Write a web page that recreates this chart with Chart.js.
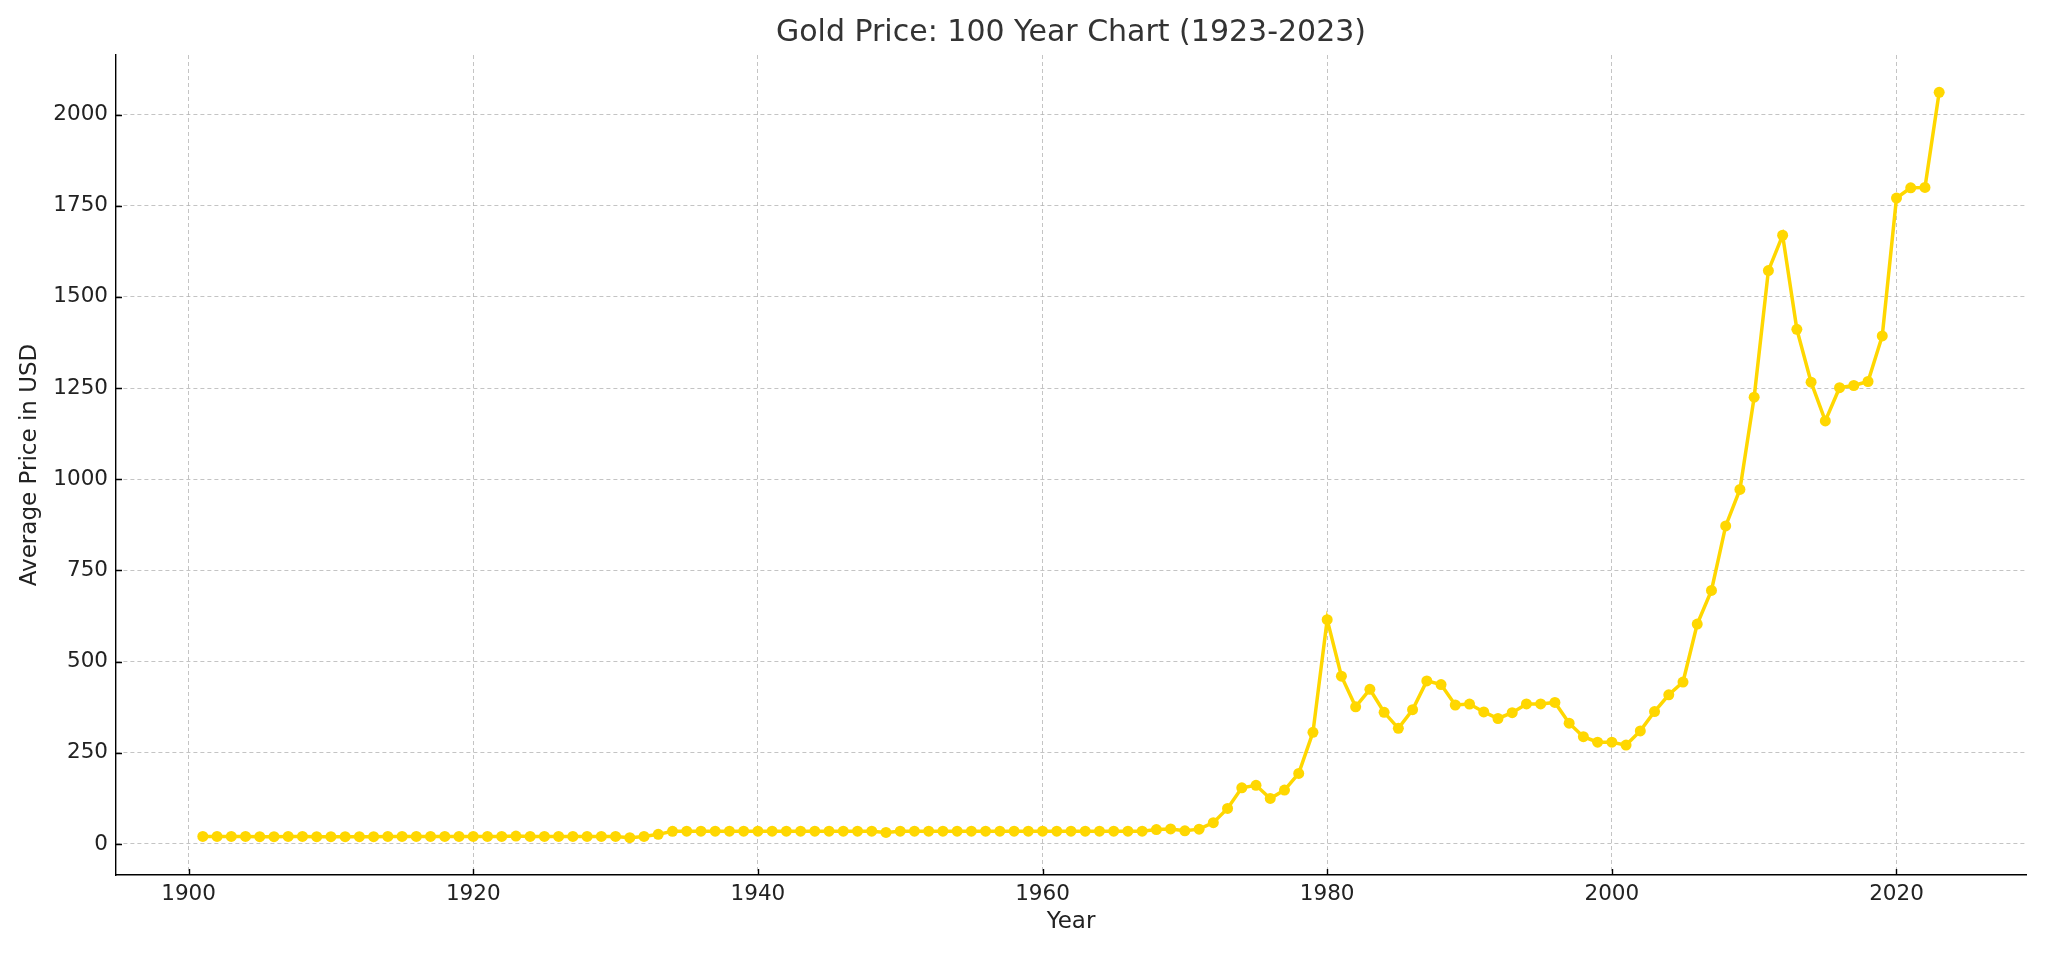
<!DOCTYPE html>
<html>
<head>
<meta charset="utf-8">
<script src="https://cdn.jsdelivr.net/npm/chart.js@4"></script>
<style>
  html, body { margin: 0; padding: 0; background: #ffffff; }
  #wrap { width: 2048px; height: 955px; }
</style>
</head>
<body>
<div id="wrap"><canvas id="c" width="2048" height="955"></canvas></div>
<script>
const years = [
  1901,1902,1903,1904,1905,1906,1907,1908,1909,1910,
  1911,1912,1913,1914,1915,1916,1917,1918,1919,1920,
  1921,1922,1923,1924,1925,1926,1927,1928,1929,1930,
  1931,1932,1933,1934,1935,1936,1937,1938,1939,1940,
  1941,1942,1943,1944,1945,1946,1947,1948,1949,1950,
  1951,1952,1953,1954,1955,1956,1957,1958,1959,1960,
  1961,1962,1963,1964,1965,1966,1967,1968,1969,1970,
  1971,1972,1973,1974,1975,1976,1977,1978,1979,1980,
  1981,1982,1983,1984,1985,1986,1987,1988,1989,1990,
  1991,1992,1993,1994,1995,1996,1997,1998,1999,2000,
  2001,2002,2003,2004,2005,2006,2007,2008,2009,2010,
  2011,2012,2013,2014,2015,2016,2017,2018,2019,2020,
  2021,2022,2023
];
const prices = [
  20.67,20.67,20.67,20.67,19.8,19.8,20.67,20.67,20.0,19.8,
  20.0,19.8,20.0,20.67,20.67,20.67,20.67,20.67,20.67,20.67,
  20.67,20.67,21.5,20.67,20.67,20.67,20.67,20.67,20.67,20.67,
  17.06,20.67,26.33,34.69,35.0,35.0,35.0,35.0,35.0,35.0,
  35.0,35.0,35.0,35.0,35.0,35.0,35.0,35.0,31.69,35.0,
  35.0,35.0,35.0,35.0,35.0,35.0,35.0,35.0,35.0,35.0,
  35.0,35.0,35.0,35.0,35.0,35.0,35.0,39.31,41.28,36.02,
  40.62,58.42,97.39,154.0,160.86,124.74,147.84,193.4,306.0,615.0,
  460.0,376.0,424.0,361.0,317.0,368.0,447.0,437.0,381.0,383.5,
  362.0,344.0,360.0,384.0,384.0,388.0,331.0,294.0,279.0,279.0,
  271.0,310.0,363.0,409.0,444.0,603.0,695.0,872.0,972.0,1225.0,
  1572.0,1669.0,1411.0,1266.0,1160.0,1251.0,1257.0,1268.0,1393.0,1771.0,
  1799.0,1800.0,2061.0
];
const xTickValues = [1900, 1920, 1940, 1960, 1980, 2000, 2020];
const yTickValues = [0, 250, 500, 750, 1000, 1250, 1500, 1750, 2000];

const titleText = 'Gold Price: 100 Year Chart (1923-2023)';
const xTitle = 'Year';
const yTitle = 'Average Price in USD';

// matplotlib-style 5% margins computed from the data
const xSpan = Math.max(...years) - Math.min(...years);
const ySpan = Math.max(...prices) - Math.min(...prices);
const xMin = Math.min(...years) - 0.05 * xSpan;
const xMax = Math.max(...years) + 0.05 * xSpan;
const yMin = Math.min(...prices) - 0.05 * ySpan;
const yMax = Math.max(...prices) + 0.05 * ySpan;

const FONT = "'DejaVu Sans', sans-serif";
const GOLD = '#FFD700';
const GRID = 'rgba(176,176,176,0.75)';

// inward tick marks + title centred over the plot area (matplotlib style)
const mplDecor = {
  id: 'mplDecor',
  afterDraw(chart) {
    const ctx = chart.ctx;
    const area = chart.chartArea;
    const xs = chart.scales.x, ys = chart.scales.y;
    ctx.save();
    ctx.strokeStyle = '#000';
    ctx.lineWidth = 1.4;
    ctx.beginPath();
    xs.ticks.forEach(t => {
      const px = Math.round(xs.getPixelForValue(t.value)) + 0.5;
      ctx.moveTo(px, area.bottom);
      ctx.lineTo(px, area.bottom - 6);
    });
    ys.ticks.forEach(t => {
      const py = Math.round(ys.getPixelForValue(t.value)) + 0.5;
      ctx.moveTo(area.left, py);
      ctx.lineTo(area.left + 6, py);
    });
    ctx.stroke();
    ctx.fillStyle = '#333333';
    ctx.font = "30px 'DejaVu Sans', sans-serif";
    ctx.textAlign = 'center';
    ctx.textBaseline = 'middle';
    ctx.fillText(titleText, (area.left + area.right) / 2, 33);
    ctx.restore();
  }
};

new Chart(document.getElementById('c'), {
  type: 'line',
  data: {
    datasets: [{
      data: years.map((y, i) => ({ x: y, y: prices[i] })),
      borderColor: GOLD,
      backgroundColor: GOLD,
      borderWidth: 3.5,
      pointRadius: 5.5,
      pointBorderWidth: 0,
      pointBackgroundColor: GOLD,
      tension: 0,
      fill: false
    }]
  },
  options: {
    responsive: false,
    animation: false,
    devicePixelRatio: 1,
    layout: { padding: { left: 0, right: 22, top: 55, bottom: 0 } },
    plugins: {
      legend: { display: false },
      tooltip: { enabled: false },
      title: { display: false }
    },
    scales: {
      x: {
        type: 'linear',
        min: xMin,
        max: xMax,
        afterBuildTicks: s => { s.ticks = xTickValues.map(v => ({ value: v })); },
        afterFit: s => { s.height = 80; },
        ticks: {
          callback: v => String(v),
          color: '#222',
          font: { family: FONT, size: 21.5 },
          padding: 7,
          maxRotation: 0,
          autoSkip: false
        },
        grid: {
          color: GRID,
          lineWidth: 1,
          drawTicks: false
        },
        border: { display: true, color: '#000', width: 1.4, dash: [4, 3] },
        title: {
          display: true,
          text: xTitle,
          color: '#222',
          font: { family: FONT, size: 23 },
          padding: { top: 0, bottom: 19 }
        }
      },
      y: {
        type: 'linear',
        min: yMin,
        max: yMax,
        afterBuildTicks: s => { s.ticks = yTickValues.map(v => ({ value: v })); },
        afterFit: s => { s.width = 116; },
        ticks: {
          callback: v => String(v),
          color: '#222',
          font: { family: FONT, size: 21.5 },
          padding: 8,
          autoSkip: false
        },
        grid: {
          color: GRID,
          lineWidth: 1,
          drawTicks: false
        },
        border: { display: true, color: '#000', width: 1.4, dash: [4, 3] },
        title: {
          display: true,
          text: yTitle,
          color: '#222',
          font: { family: FONT, size: 23 },
          padding: { top: 16, bottom: 0 }
        }
      }
    }
  },
  plugins: [mplDecor]
});
</script>
</body>
</html>
